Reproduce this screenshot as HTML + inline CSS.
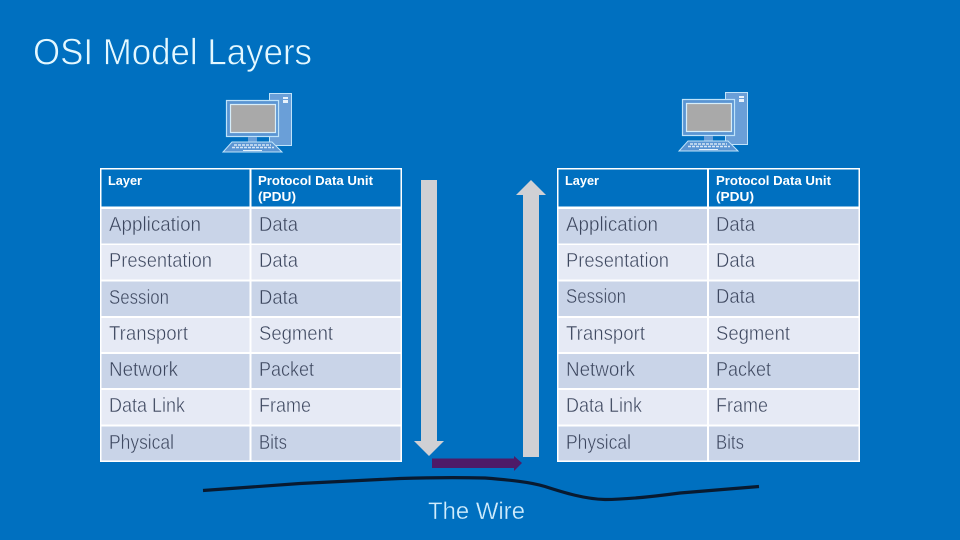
<!DOCTYPE html>
<html>
<head>
<meta charset="utf-8">
<title>OSI Model Layers</title>
<style>
html,body{margin:0;padding:0;background:#0070c0;width:960px;height:540px;overflow:hidden}
svg{display:block}
text{font-family:"Liberation Sans",sans-serif}
.c{font-size:20px;fill:#3c465e;stroke-width:.45px}
.o{stroke:#c9d4e8}
.e{stroke:#e6eaf5}
.h{font-size:13px;font-weight:bold;fill:#fff}
</style>
</head>
<body>
<svg width="960" height="540" viewBox="0 0 960 540" xmlns="http://www.w3.org/2000/svg">
<defs>
<g id="pc">
<rect x="269.500" y="93.500" width="22" height="52" fill="#6a9fd8" stroke="#bfe3fa" stroke-width="1"/>
<rect x="283" y="97" width="5" height="2" fill="#e8f2fb"/>
<rect x="283" y="100" width="5" height="3" fill="#e8f2fb"/>
<rect x="226.500" y="100.500" width="52" height="36" fill="#5b95d3" stroke="#bfe3fa" stroke-width="1.200"/>
<rect x="230.500" y="104.500" width="45" height="28" fill="#a9a9a9" stroke="#d6eefb" stroke-width="1.200"/>
<rect x="248" y="137" width="9" height="5" fill="#6a9fd8"/>
<path d="M232 142H272L282 152H223Z" fill="#5b95d3" stroke="#bfe3fa" stroke-width="1"/>
<path d="M234 145H271M232 147.500H274" stroke="#d6e6f5" stroke-width="1.600" stroke-dasharray="3 1" fill="none"/>
<path d="M243 150.500H262" stroke="#e4f1fb" stroke-width="1"/>
</g>
<g id="tb">
<rect x="100" y="168" width="302" height="294" fill="#fff"/>
<rect x="101.500" y="169.500" width="148" height="37" fill="#0070c0"/>
<rect x="251.500" y="169.500" width="149" height="37" fill="#0070c0"/>
<rect x="101.500" y="209" width="148" height="34.500" fill="#c9d4e8"/>
<rect x="251.500" y="209" width="149" height="34.500" fill="#c9d4e8"/>
<rect x="101.500" y="245" width="148" height="34.500" fill="#e6eaf5"/>
<rect x="251.500" y="245" width="149" height="34.500" fill="#e6eaf5"/>
<rect x="101.500" y="281.500" width="148" height="34.500" fill="#c9d4e8"/>
<rect x="251.500" y="281.500" width="149" height="34.500" fill="#c9d4e8"/>
<rect x="101.500" y="318" width="148" height="34" fill="#e6eaf5"/>
<rect x="251.500" y="318" width="149" height="34" fill="#e6eaf5"/>
<rect x="101.500" y="354" width="148" height="34" fill="#c9d4e8"/>
<rect x="251.500" y="354" width="149" height="34" fill="#c9d4e8"/>
<rect x="101.500" y="390" width="148" height="34.500" fill="#e6eaf5"/>
<rect x="251.500" y="390" width="149" height="34.500" fill="#e6eaf5"/>
<rect x="101.500" y="426.500" width="148" height="34" fill="#c9d4e8"/>
<rect x="251.500" y="426.500" width="149" height="34" fill="#c9d4e8"/>
</g>
</defs>

<text x="33" y="64.500" font-size="37" fill="#e4f8ff" stroke="#0070c0" stroke-width=".7" textLength="279" lengthAdjust="spacingAndGlyphs">OSI Model Layers</text>

<use href="#pc"/>
<use href="#pc" x="456" y="-1"/>

<use href="#tb"/>
<g transform="translate(557 0) scale(1.0033 1) translate(-100 0)"><use href="#tb"/></g>

<!-- left table text -->
<text class="h" x="108" y="185" textLength="34" lengthAdjust="spacingAndGlyphs">Layer</text>
<text class="h" x="258" y="185" textLength="115" lengthAdjust="spacingAndGlyphs">Protocol Data Unit</text>
<text class="h" x="258" y="201" textLength="38" lengthAdjust="spacingAndGlyphs">(PDU)</text>
<text class="c o" x="109" y="231" textLength="92" lengthAdjust="spacingAndGlyphs">Application</text>
<text class="c o" x="259" y="231" textLength="39" lengthAdjust="spacingAndGlyphs">Data</text>
<text class="c e" x="109" y="267" textLength="103" lengthAdjust="spacingAndGlyphs">Presentation</text>
<text class="c e" x="259" y="267" textLength="39" lengthAdjust="spacingAndGlyphs">Data</text>
<text class="c o" x="109" y="304" textLength="60" lengthAdjust="spacingAndGlyphs">Session</text>
<text class="c o" x="259" y="304" textLength="39" lengthAdjust="spacingAndGlyphs">Data</text>
<text class="c e" x="109" y="340" textLength="79" lengthAdjust="spacingAndGlyphs">Transport</text>
<text class="c e" x="259" y="340" textLength="74" lengthAdjust="spacingAndGlyphs">Segment</text>
<text class="c o" x="109" y="376" textLength="69" lengthAdjust="spacingAndGlyphs">Network</text>
<text class="c o" x="259" y="376" textLength="55" lengthAdjust="spacingAndGlyphs">Packet</text>
<text class="c e" x="109" y="412" textLength="76" lengthAdjust="spacingAndGlyphs">Data Link</text>
<text class="c e" x="259" y="412" textLength="52" lengthAdjust="spacingAndGlyphs">Frame</text>
<text class="c o" x="109" y="449" textLength="65" lengthAdjust="spacingAndGlyphs">Physical</text>
<text class="c o" x="259" y="449" textLength="28" lengthAdjust="spacingAndGlyphs">Bits</text>

<!-- right table text -->
<text class="h" x="565" y="185" textLength="34" lengthAdjust="spacingAndGlyphs">Layer</text>
<text class="h" x="716" y="185" textLength="115" lengthAdjust="spacingAndGlyphs">Protocol Data Unit</text>
<text class="h" x="716" y="201" textLength="38" lengthAdjust="spacingAndGlyphs">(PDU)</text>
<text class="c o" x="566" y="231" textLength="92" lengthAdjust="spacingAndGlyphs">Application</text>
<text class="c o" x="716" y="231" textLength="39" lengthAdjust="spacingAndGlyphs">Data</text>
<text class="c e" x="566" y="267" textLength="103" lengthAdjust="spacingAndGlyphs">Presentation</text>
<text class="c e" x="716" y="267" textLength="39" lengthAdjust="spacingAndGlyphs">Data</text>
<text class="c o" x="566" y="303" textLength="60" lengthAdjust="spacingAndGlyphs">Session</text>
<text class="c o" x="716" y="303" textLength="39" lengthAdjust="spacingAndGlyphs">Data</text>
<text class="c e" x="566" y="340" textLength="79" lengthAdjust="spacingAndGlyphs">Transport</text>
<text class="c e" x="716" y="340" textLength="74" lengthAdjust="spacingAndGlyphs">Segment</text>
<text class="c o" x="566" y="376" textLength="69" lengthAdjust="spacingAndGlyphs">Network</text>
<text class="c o" x="716" y="376" textLength="55" lengthAdjust="spacingAndGlyphs">Packet</text>
<text class="c e" x="566" y="412" textLength="76" lengthAdjust="spacingAndGlyphs">Data Link</text>
<text class="c e" x="716" y="412" textLength="52" lengthAdjust="spacingAndGlyphs">Frame</text>
<text class="c o" x="566" y="449" textLength="65" lengthAdjust="spacingAndGlyphs">Physical</text>
<text class="c o" x="716" y="449" textLength="28" lengthAdjust="spacingAndGlyphs">Bits</text>

<!-- arrows -->
<path d="M421 180H437V441H444L429 456L414 441H421Z" fill="#d0d0d4"/>
<path d="M531 180L546 195H539V457H523V195H516Z" fill="#d0d0d4"/>
<path d="M432 458.500H514V456L522 463L514 471V468H432Z" fill="#4e1a68"/>

<!-- wire -->
<path d="M203 490.500L300 483.500L400 478.500C430 477.500 465 477.500 485 478C510 480 530 482 545 486.500C565 493 585 499 605 499.500C625 499.500 650 497 680 493L759 486.500" fill="none" stroke="#081a30" stroke-width="3.200"/>

<text x="428" y="519" font-size="24" fill="#d0ecfc" stroke="#0070c0" stroke-width=".35" textLength="97" lengthAdjust="spacingAndGlyphs">The Wire</text>
</svg>
</body>
</html>
